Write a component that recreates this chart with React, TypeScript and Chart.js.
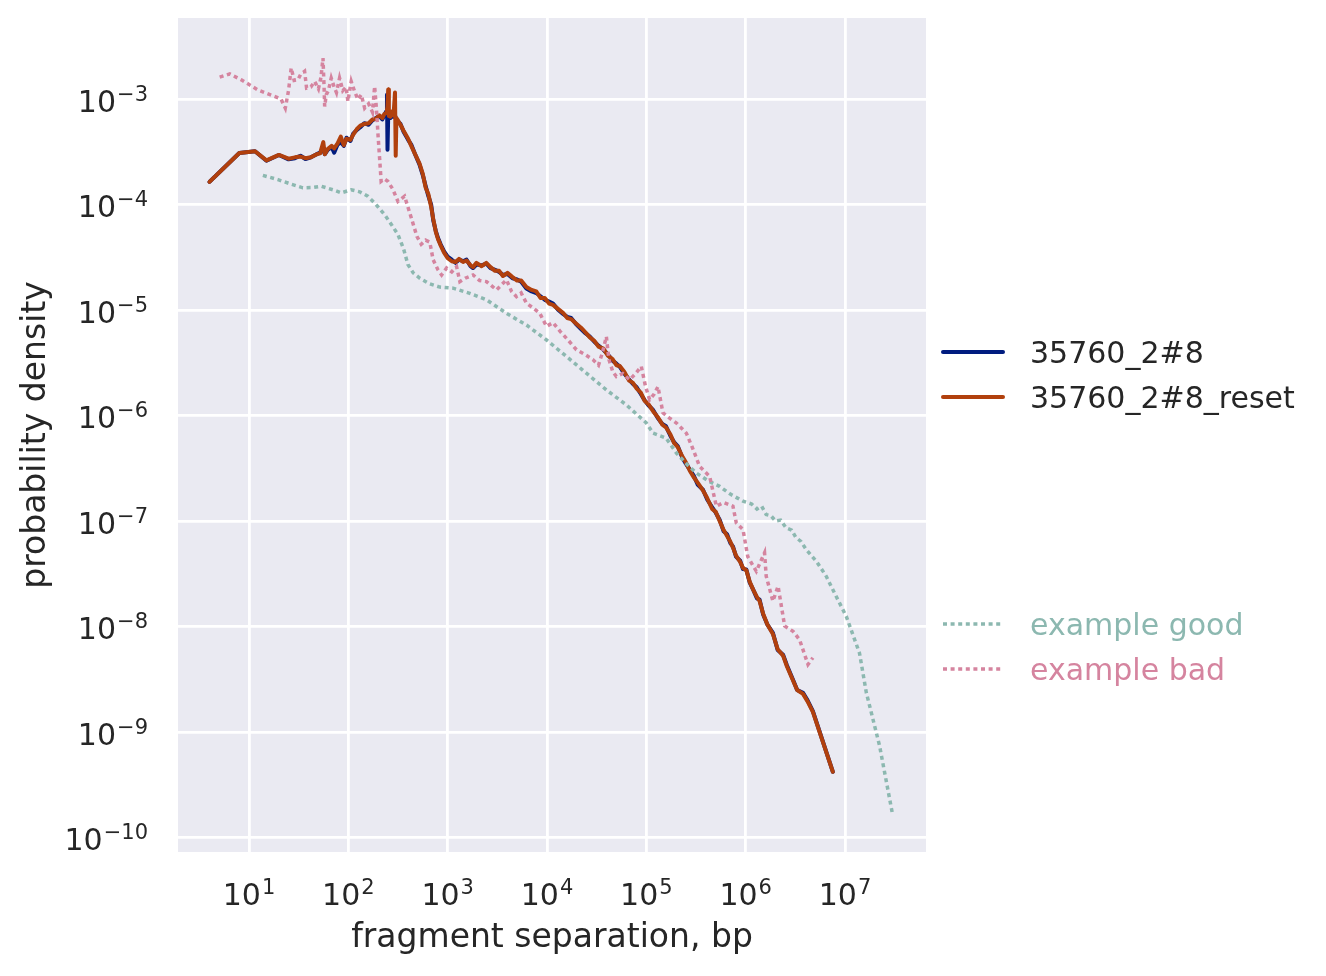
import React, { useEffect, useRef } from "react";
import { Chart, registerables } from "chart.js";

Chart.register(...registerables);

// ---------------- data ----------------
const mainSeparation = [
  4, 8, 11.5, 15, 20, 25, 29, 33, 37, 42,
  48, 52, 56, 58, 62, 68, 72, 78, 84, 90,
  96, 105, 112, 122, 132, 145, 160, 175, 190, 205,
  220, 230, 240, 245, 248, 252, 256, 265, 275, 285,
  295, 300, 305, 318, 335, 360, 400, 430, 470, 520,
  562, 600, 640, 682, 716, 760, 800, 850, 920, 1000,
  1100, 1200, 1300, 1430, 1550, 1700, 1800, 1950, 2200, 2450,
  2700, 3000, 3300, 3600, 4000, 4500, 5000, 5500, 6200, 7000,
  7800, 8600, 9500, 10500, 11500, 13000, 14500, 16000, 17500, 19500,
  22000, 24500, 27000, 30000, 33000, 37000, 41000, 46000, 50000, 54000,
  60000, 67000, 73000, 80000, 88000, 96000, 105000, 117000, 130000, 145000,
  158000, 175000, 190000, 208000, 230000, 250000, 274000, 300000, 330000, 372000,
  410000, 460000, 500000, 547000, 600000, 650000, 700000, 745000, 800000, 880000,
  940000, 1016000, 1100000, 1200000, 1300000, 1380000, 1500000, 1650000, 1880000, 2100000,
  2380000, 2600000, 2990000, 3300000, 3780000, 4200000, 4750000, 7550000,
];

const sampleDensity = [
  1.64e-4, 3.08e-4, 3.2e-4, 2.6e-4, 2.95e-4, 2.68e-4, 2.75e-4, 2.9e-4, 2.7e-4, 2.8e-4,
  3.0e-4, 3.1e-4, 3.4e-4, 3.0e-4, 3.3e-4, 3.5e-4, 3.1e-4, 3.7e-4, 3.9e-4, 3.6e-4,
  4.3e-4, 4.0e-4, 4.7e-4, 5.1e-4, 5.4e-4, 5.9e-4, 5.7e-4, 6.3e-4, 6.6e-4, 6.9e-4,
  6.4e-4, 7.0e-4, 7.6e-4, 1.1e-3, 3.3e-4, 6.8e-4, 7.2e-4, 6.6e-4, 7.4e-4, 6.8e-4,
  7.0e-4, 6.6e-4, 6.4e-4, 6.1e-4, 5.8e-4, 4.9e-4, 4.1e-4, 3.7e-4, 3.0e-4, 2.4e-4,
  1.9e-4, 1.5e-4, 1.2e-4, 1.0e-4, 7.1e-5, 5.6e-5, 4.8e-5, 4.2e-5, 3.6e-5, 3.2e-5,
  3.0e-5, 2.8e-5, 3.0e-5, 2.9e-5, 3.0e-5, 2.6e-5, 2.5e-5, 2.7e-5, 2.65e-5, 2.75e-5,
  2.5e-5, 2.4e-5, 2.3e-5, 2.15e-5, 2.2e-5, 2.0e-5, 1.95e-5, 1.85e-5, 1.6e-5, 1.5e-5,
  1.45e-5, 1.35e-5, 1.25e-5, 1.2e-5, 1.15e-5, 1.0e-5, 9.2e-6, 8.6e-6, 8.4e-6, 7.4e-6,
  6.6e-6, 6.0e-6, 5.6e-6, 5.0e-6, 4.6e-6, 4.2e-6, 3.8e-6, 3.3e-6, 3.1e-6, 2.9e-6,
  2.5e-6, 2.2e-6, 2.0e-6, 1.85e-6, 1.6e-6, 1.4e-6, 1.25e-6, 1.13e-6, 9.5e-7, 8.3e-7,
  7.9e-7, 6.4e-7, 5.6e-7, 5.1e-7, 4.0e-7, 3.5e-7, 3.07e-7, 2.7e-7, 2.2e-7, 1.98e-7,
  1.6e-7, 1.35e-7, 1.2e-7, 1.03e-7, 8.0e-8, 7.5e-8, 6.2e-8, 5.75e-8, 4.6e-8, 4.2e-8,
  3.5e-8, 3.47e-8, 2.6e-8, 2.2e-8, 1.85e-8, 1.8e-8, 1.3e-8, 1.05e-8, 8.7e-9, 6.0e-9,
  5.4e-9, 4.3e-9, 3.15e-9, 2.5e-9, 2.35e-9, 2.0e-9, 1.58e-9, 4.2e-10,
];

const resetDensity = [
  1.64e-4, 3.08e-4, 3.2e-4, 2.62e-4, 2.95e-4, 2.72e-4, 2.8e-4, 2.85e-4, 2.75e-4, 2.8e-4,
  3.0e-4, 3.05e-4, 3.9e-4, 3.0e-4, 3.35e-4, 3.6e-4, 3.4e-4, 3.8e-4, 4.4e-4, 3.65e-4,
  4.2e-4, 4.1e-4, 4.6e-4, 5.2e-4, 5.6e-4, 5.8e-4, 5.9e-4, 6.4e-4, 6.5e-4, 7.0e-4,
  6.6e-4, 7.2e-4, 7.4e-4, 7.9e-4, 8.5e-4, 1.23e-3, 6.9e-4, 6.8e-4, 7.6e-4, 7.0e-4,
  1.15e-3, 2.9e-4, 6.6e-4, 6.2e-4, 5.7e-4, 5.0e-4, 4.2e-4, 3.6e-4, 3.0e-4, 2.45e-4,
  1.95e-4, 1.45e-4, 1.25e-4, 9.5e-5, 7.3e-5, 5.5e-5, 4.7e-5, 4.1e-5, 3.5e-5, 3.1e-5,
  2.9e-5, 2.85e-5, 3.05e-5, 2.85e-5, 2.95e-5, 2.65e-5, 2.55e-5, 2.8e-5, 2.6e-5, 2.8e-5,
  2.55e-5, 2.35e-5, 2.35e-5, 2.1e-5, 2.25e-5, 2.05e-5, 1.9e-5, 1.9e-5, 1.65e-5, 1.55e-5,
  1.5e-5, 1.3e-5, 1.3e-5, 1.15e-5, 1.12e-5, 1.02e-5, 9.4e-6, 8.4e-6, 8.2e-6, 7.5e-6,
  6.8e-6, 6.1e-6, 5.5e-6, 5.1e-6, 4.5e-6, 4.3e-6, 3.7e-6, 3.4e-6, 3.0e-6, 2.95e-6,
  2.6e-6, 2.15e-6, 2.05e-6, 1.8e-6, 1.65e-6, 1.38e-6, 1.28e-6, 1.1e-6, 9.7e-7, 8.2e-7,
  7.7e-7, 6.6e-7, 5.5e-7, 5.0e-7, 4.1e-7, 3.6e-7, 3.0e-7, 2.6e-7, 2.3e-7, 1.95e-7,
  1.65e-7, 1.3e-7, 1.22e-7, 1.0e-7, 8.2e-8, 7.2e-8, 6.4e-8, 5.6e-8, 4.7e-8, 4.1e-8,
  3.6e-8, 3.4e-8, 2.65e-8, 2.2e-8, 1.9e-8, 1.75e-8, 1.32e-8, 1.05e-8, 8.5e-9, 6.1e-9,
  5.3e-9, 4.2e-9, 3.1e-9, 2.5e-9, 2.3e-9, 1.95e-9, 1.55e-9, 4.2e-10,
];

const goodSeparation = [
  13.8, 19.6, 27, 34.9, 44, 53.4, 70, 84.9, 107, 130,
  157, 190, 232, 270, 316, 360, 398, 450, 525, 650,
  834, 1135, 1671, 2460, 3910, 6220, 9890, 15700, 24900, 39600,
  63000, 100000, 117000, 158000, 201000, 260000, 319000, 420000, 547000, 700000,
  940000, 1150000, 1300000, 1450000, 1610000, 1800000, 2000000, 2250000, 2560000, 2900000,
  3200000, 3600000, 4070000, 5200000, 6480000, 8000000, 10300000, 14000000, 16400000, 22300000,
  29900000,
];

const goodDensity = [
  1.89e-4, 1.72e-4, 1.55e-4, 1.44e-4, 1.45e-4, 1.49e-4, 1.38e-4, 1.29e-4, 1.38e-4, 1.32e-4,
  1.2e-4, 1.0e-4, 8.0e-5, 6.5e-5, 5.2e-5, 3.8e-5, 2.7e-5, 2.25e-5, 2.0e-5, 1.78e-5,
  1.65e-5, 1.61e-5, 1.44e-5, 1.25e-5, 9.3e-6, 7.2e-6, 5.2e-6, 3.63e-6, 2.52e-6, 1.75e-6,
  1.26e-6, 8.5e-7, 6.8e-7, 6.1e-7, 4.4e-7, 3.4e-7, 2.85e-7, 2.4e-7, 2.13e-7, 1.8e-7,
  1.54e-7, 1.45e-7, 1.3e-7, 1.38e-7, 1.15e-7, 1.12e-7, 1.0e-7, 1.02e-7, 8.6e-8, 8.2e-8,
  7.0e-8, 6.4e-8, 5.37e-8, 4.1e-8, 2.99e-8, 2.0e-8, 1.25e-8, 5.6e-9, 2.36e-9, 7.4e-10,
  1.72e-10,
];

const badSeparation = [
  5.07, 6.4, 8.37, 12.3, 18.1, 21, 23.2, 25, 26.6, 28.5,
  31.1, 33, 36.3, 38, 42, 45.8, 50, 53, 55.6, 57,
  57.8, 60, 63, 67.3, 72, 76, 81.6, 88, 95, 99,
  107, 115, 125, 135, 146, 160, 175, 184, 192, 199,
  214, 230, 250, 280, 316, 368, 430, 490, 542, 600,
  661, 714, 800, 869, 975, 1100, 1230, 1328, 1500, 1803,
  2100, 2460, 3100, 3910, 4400, 4930, 5500, 6220, 7200, 8470,
  9890, 11500, 13500, 16000, 19800, 24000, 29100, 33000, 36000, 39600,
  42000, 46000, 50000, 58000, 68000, 78000, 89000, 98000, 108000, 120000,
  131000, 147000, 170000, 201000, 253000, 290000, 344000, 434000, 507000, 600000,
  745000, 805000, 940000, 1050000, 1280000, 1550000, 1610000, 1880000, 2120000, 2470000,
  3000000, 3490000, 4240000, 4750000,
];

const badDensity = [
  1.61e-3, 1.73e-3, 1.52e-3, 1.22e-3, 1.06e-3, 1.0e-3, 8.2e-4, 1.2e-3, 1.97e-3, 1.5e-3,
  1.52e-3, 1.7e-3, 1.83e-3, 1.27e-3, 1.3e-3, 1.47e-3, 1.25e-3, 1.6e-3, 2.44e-3, 1.3e-3,
  8.5e-4, 1.1e-3, 1.2e-3, 1.58e-3, 1.3e-3, 1.15e-3, 1.58e-3, 1.2e-3, 1.3e-3, 9.5e-4,
  1.47e-3, 1.2e-3, 9.9e-4, 1.1e-3, 8.2e-4, 9.0e-4, 7.5e-4, 1.32e-3, 8.0e-4, 4.6e-4,
  1.66e-4, 1.75e-4, 1.66e-4, 1.4e-4, 1.07e-4, 1.2e-4, 7.5e-5, 5.0e-5, 4.2e-5, 4.6e-5,
  4.4e-5, 3.0e-5, 2.4e-5, 2.15e-5, 2.5e-5, 2.3e-5, 2.58e-5, 1.86e-5, 2.0e-5, 2.15e-5,
  1.9e-5, 1.86e-5, 1.55e-5, 1.93e-5, 1.5e-5, 1.34e-5, 1.45e-5, 1.16e-5, 1.05e-5, 9.3e-6,
  7.0e-6, 7.6e-6, 6.3e-6, 5.3e-6, 4.2e-6, 3.8e-6, 3.37e-6, 3.0e-6, 3.9e-6, 5.6e-6,
  3.4e-6, 2.6e-6, 2.34e-6, 2.5e-6, 2.18e-6, 2.5e-6, 2.92e-6, 1.9e-6, 1.41e-6, 1.6e-6,
  1.88e-6, 1.06e-6, 9.5e-7, 8.5e-7, 6.8e-7, 5.0e-7, 3.3e-7, 2.65e-7, 1.38e-7, 1.5e-7,
  1.38e-7, 9.6e-8, 8.3e-8, 4.6e-8, 3.34e-8, 5.0e-8, 3.0e-8, 1.74e-8, 2.41e-8, 1.01e-8,
  9.0e-9, 7.5e-9, 4.37e-9, 5.06e-9,
];

const xTickValues = [1e1, 1e2, 1e3, 1e4, 1e5, 1e6, 1e7];
const xTickExponents = ["1", "2", "3", "4", "5", "6", "7"];
const yTickValues = [1e-10, 1e-9, 1e-8, 1e-7, 1e-6, 1e-5, 1e-4, 1e-3];
const yTickExponents = ["\u221210", "\u22129", "\u22128", "\u22127", "\u22126", "\u22125", "\u22124", "\u22123"];

const seriesLabels = ["35760_2#8", "35760_2#8_reset", "example good", "example bad"];
const xAxisTitle = "fragment separation, bp";
const yAxisTitle = "probability density";

// ---------------- styles ----------------
const BLUE = "#001c7f";
const ORANGE = "#b1400d";
const GOOD = "#8cb8b0";
const BAD = "#d5849f";
const TEXT = "#262626";
const FONT = "'DejaVu Sans', 'Liberation Sans', sans-serif";

function pts(xs: number[], ys: number[]) {
  return xs.map((x, i) => ({ x, y: ys[i] }));
}

function drawPower(ctx: CanvasRenderingContext2D, exp: string, x: number, baseline: number, align: "right" | "center") {
  ctx.font = `30px ${FONT}`;
  const wb = ctx.measureText("10").width;
  ctx.font = `21px ${FONT}`;
  const we = ctx.measureText(exp).width;
  const gap = 1;
  const total = wb + gap + we;
  const x0 = align === "right" ? x - total : x - total / 2;
  ctx.textAlign = "left";
  ctx.textBaseline = "alphabetic";
  ctx.font = `30px ${FONT}`;
  ctx.fillText("10", x0, baseline);
  ctx.font = `21px ${FONT}`;
  ctx.fillText(exp, x0 + wb + gap, baseline - 11);
}

const decorPlugin = {
  id: "seabornDecor",
  beforeDraw(chart: any) {
    const { ctx, chartArea: a } = chart;
    ctx.save();
    ctx.fillStyle = "#eaeaf2";
    ctx.fillRect(a.left, a.top, a.right - a.left, a.bottom - a.top);
    ctx.restore();
  },
  afterDraw(chart: any) {
    const ctx: CanvasRenderingContext2D = chart.ctx;
    const a = chart.chartArea;
    const xs = chart.scales.x;
    const ys = chart.scales.y;
    ctx.save();
    ctx.fillStyle = TEXT;
    yTickValues.forEach((v, i) => {
      drawPower(ctx, yTickExponents[i], a.left - 30, ys.getPixelForValue(v) + 12.5, "right");
    });
    xTickValues.forEach((v, i) => {
      drawPower(ctx, xTickExponents[i], xs.getPixelForValue(v), a.bottom + 53, "center");
    });
    // axis titles
    ctx.font = `33px ${FONT}`;
    ctx.textAlign = "center";
    ctx.textBaseline = "alphabetic";
    ctx.fillText(xAxisTitle, (a.left + a.right) / 2, a.bottom + 95);
    ctx.save();
    ctx.translate(a.left - 133, (a.top + a.bottom) / 2);
    ctx.rotate(-Math.PI / 2);
    ctx.fillText(yAxisTitle, 0, 0);
    ctx.restore();

    // legend
    const rows = [
      { label: seriesLabels[0], color: BLUE, text: TEXT, dash: [] as number[], y: 352, w: 4 },
      { label: seriesLabels[1], color: ORANGE, text: TEXT, dash: [] as number[], y: 397, w: 4 },
      { label: seriesLabels[2], color: GOOD, text: GOOD, dash: [4, 3.6], y: 624, w: 3.5 },
      { label: seriesLabels[3], color: BAD, text: BAD, dash: [4, 3.6], y: 669, w: 3.5 },
    ];
    rows.forEach((r) => {
      ctx.save();
      ctx.strokeStyle = r.color;
      ctx.lineWidth = r.w;
      ctx.setLineDash(r.dash);
      ctx.lineCap = r.dash.length ? "butt" : "round";
      ctx.beginPath();
      ctx.moveTo(a.right + 17, r.y);
      ctx.lineTo(a.right + 77, r.y);
      ctx.stroke();
      ctx.restore();
      ctx.fillStyle = r.text;
      ctx.font = `30px ${FONT}`;
      ctx.textAlign = "left";
      ctx.textBaseline = "alphabetic";
      ctx.fillText(r.label, a.right + 104, r.y + 11);
    });
    ctx.restore();
  },
};

export default function App() {
  const ref = useRef<HTMLCanvasElement | null>(null);

  useEffect(() => {
    document.body.style.margin = "0";
    const canvas = ref.current;
    if (!canvas) return;
    const solid = {
      borderWidth: 4,
      pointRadius: 0,
      tension: 0,
      fill: false,
      borderJoinStyle: "round" as const,
      borderCapStyle: "round" as const,
    };
    const dotted = {
      borderWidth: 3.5,
      pointRadius: 0,
      tension: 0,
      fill: false,
      borderDash: [4, 3.6],
      borderCapStyle: "butt" as const,
    };
    const chart = new Chart(canvas, {
      type: "line",
      data: {
        datasets: [
          { label: seriesLabels[0], data: pts(mainSeparation, sampleDensity), borderColor: BLUE, order: 3, ...solid },
          { label: seriesLabels[1], data: pts(mainSeparation, resetDensity), borderColor: ORANGE, order: 2, ...solid },
          { label: seriesLabels[2], data: pts(goodSeparation, goodDensity), borderColor: GOOD, order: 1, ...dotted },
          { label: seriesLabels[3], data: pts(badSeparation, badDensity), borderColor: BAD, order: 0, ...dotted },
        ],
      },
      options: {
        animation: false,
        responsive: false,
        devicePixelRatio: 1,
        events: [],
        layout: { padding: { top: 18, right: 400, left: 0, bottom: 0 } },
        plugins: { legend: { display: false }, tooltip: { enabled: false } },
        scales: {
          x: {
            type: "logarithmic",
            min: 1.929,
            max: 6.54e7,
            border: { display: false },
            grid: { color: "#ffffff", lineWidth: 2.8, drawTicks: false },
            ticks: { display: false },
            afterBuildTicks: (s: any) => {
              s.ticks = xTickValues.map((v) => ({ value: v }));
            },
            afterFit: (s: any) => {
              s.height = 124;
            },
          },
          y: {
            type: "logarithmic",
            min: 7.29e-11,
            max: 5.86e-3,
            border: { display: false },
            grid: { color: "#ffffff", lineWidth: 2.8, drawTicks: false },
            ticks: { display: false },
            afterBuildTicks: (s: any) => {
              s.ticks = yTickValues.map((v) => ({ value: v }));
            },
            afterFit: (s: any) => {
              s.width = 178;
            },
          },
        },
      },
      plugins: [decorPlugin],
    } as any);
    return () => chart.destroy();
  }, []);

  return (
    <div style={{ width: 1326, height: 976, background: "#ffffff" }}>
      <canvas ref={ref} width={1326} height={976} style={{ display: "block" }} />
    </div>
  );
}
